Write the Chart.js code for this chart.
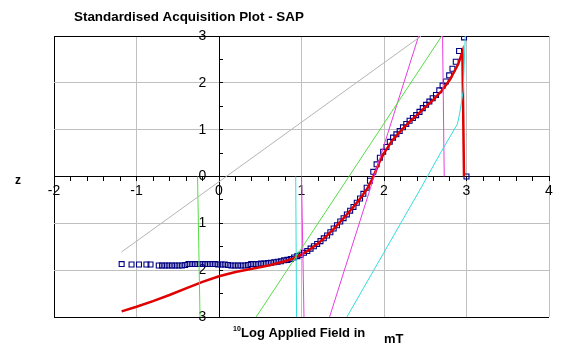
<!DOCTYPE html>
<html>
<head>
<meta charset="utf-8">
<script src="https://cdn.jsdelivr.net/npm/chart.js@4.4.1/dist/chart.umd.min.js"></script>
<style>
html,body{margin:0;padding:0;background:#fff;}
#wrap{width:576px;height:358px;}
</style>
</head>
<body>
<div id="wrap"><canvas id="c" width="576" height="358"></canvas></div>
<script>
// ---- data ----
const titleText = "Standardised Acquisition Plot - SAP";
const yTitle = "z";
const xTitleSup = "10";
const xTitleMain = "Log Applied Field in";
const xTitleUnit = "mT";

// measured SAP points (open squares)
const sapX = [
  -1.18,-1.06,-0.97,-0.88,-0.83,-0.73,-0.69,-0.65,-0.61,-0.57,
  -0.53,-0.49,-0.45,-0.41,-0.37,-0.33,-0.29,-0.25,-0.21,-0.17,
  -0.13,-0.09,-0.05,-0.01,0.03,0.07,0.11,0.15,0.19,0.23,
  0.27,0.31,0.35,0.39,0.43,0.47,0.51,0.55,0.59,0.63,
  0.67,0.71,0.75,0.79,0.83,0.87,0.91,0.95,0.99,1.03,
  1.07,1.11,1.15,1.19,1.23,1.27,1.31,1.35,1.39,1.43,
  1.47,1.51,1.55,1.59,1.63,1.67,1.71,1.75,1.79,1.83,
  1.87,1.91,1.95,1.99,2.03,2.07,2.11,2.15,2.19,2.23,
  2.27,2.31,2.35,2.39,2.43,2.47,2.51,2.55,2.59,2.63,
  2.67,2.71,2.75,2.79,2.83,2.87,2.91,2.97,3.00
];
const sapZ = [
  -1.87,-1.88,-1.88,-1.88,-1.88,-1.90,-1.90,-1.90,-1.90,-1.90,
  -1.90,-1.90,-1.90,-1.89,-1.87,-1.87,-1.87,-1.87,-1.87,-1.87,
  -1.87,-1.87,-1.87,-1.88,-1.88,-1.88,-1.89,-1.90,-1.90,-1.90,
  -1.90,-1.90,-1.89,-1.87,-1.87,-1.87,-1.86,-1.86,-1.85,-1.84,
  -1.83,-1.82,-1.81,-1.79,-1.78,-1.76,-1.73,-1.70,-1.67,-1.63,
  -1.59,-1.54,-1.49,-1.44,-1.38,-1.32,-1.26,-1.19,-1.11,-1.04,
  -0.96,-0.89,-0.81,-0.73,-0.65,-0.56,-0.47,-0.37,-0.24,-0.09,
  0.10,0.26,0.40,0.53,0.63,0.74,0.83,0.90,0.97,1.05,
  1.12,1.19,1.25,1.31,1.38,1.46,1.53,1.60,1.67,1.74,
  1.84,1.94,2.03,2.16,2.30,2.45,2.68,2.97,0
];

// fitted model (red)
const fitX = [-1.18,-1.0,-0.8,-0.6,-0.4,-0.2,0,0.2,0.4,0.6,0.8,0.9,1.0,1.1,1.2,1.3,1.4,1.5,1.6,1.7,1.8,1.85,1.9,1.95,2.0,2.1,2.2,2.3,2.4,2.5,2.6,2.7,2.8,2.9,2.95,2.97];
const fitZ = [-2.88,-2.78,-2.66,-2.53,-2.39,-2.25,-2.13,-2.04,-1.97,-1.90,-1.81,-1.75,-1.67,-1.56,-1.43,-1.28,-1.10,-0.91,-0.71,-0.50,-0.25,-0.08,0.12,0.33,0.50,0.77,0.97,1.15,1.31,1.48,1.64,1.83,2.07,2.40,2.66,0];

// component / reference lines
const grayX = [-1.18, 2.45];      const grayZ = [-1.61, 3.0];
const green1X = [-0.26, -0.23];   const green1Z = [0, -3];
const green2X = [0.45, 2.70];     const green2Z = [-3, 3];
const cyan1X = [0.93, 0.94];      const cyan1Z = [0, -3];
const cyan2X = [1.55, 2.0, 2.44, 2.7, 2.89, 2.92, 2.96, 2.985];
const cyan2Z = [-3, -1.62, -0.27, 0.55, 1.12, 1.37, 1.83, 3.0];
const mag1X = [1.00, 1.03];       const mag1Z = [0, -3];
const mag2X = [1.34, 2.42];       const mag2Z = [-3, 3];
const mag3X = [2.71, 2.73];       const mag3Z = [3, 0];

const xMin = -2, xMax = 4, xStep = 0.2;
const yMin = -3, yMax = 3, yStep = 0.5;

// ---- build chart ----
const pts = (xs, zs) => xs.map((x, i) => ({x: x, y: zs[i]}));
const isInt = v => Math.abs(v - Math.round(v)) < 1e-6;
const FONT = "'Liberation Sans', Arial, sans-serif";
const GRID = '#c0c0c0';

function lineDs(xs, zs, color, w) {
  return {data: pts(xs, zs), showLine: true, borderColor: color, borderWidth: w,
          pointRadius: 0, fill: false, tension: 0};
}

const textPlugin = {
  id: 'sapText',
  afterDraw(chart) {
    const ctx = chart.ctx;
    ctx.save();
    ctx.fillStyle = '#000';
    ctx.textBaseline = 'alphabetic';
    ctx.textAlign = 'left';
    ctx.font = "bold 13.4px " + FONT;
    ctx.fillText(titleText, 74, 20.5);
    ctx.font = "bold 12px " + FONT;
    ctx.fillText(yTitle, 15, 184);
    ctx.font = "bold 7px " + FONT;
    ctx.fillText(xTitleSup, 233, 331);
    ctx.font = "bold 13px " + FONT;
    ctx.fillText(xTitleMain, 241, 337);
    ctx.fillText(xTitleUnit, 384, 343);
    ctx.restore();
  }
};

new Chart(document.getElementById('c'), {
  type: 'scatter',
  data: {
    datasets: [
      lineDs(grayX, grayZ, '#b4b4b4', 1),
      lineDs(green1X, green1Z, '#55dd44', 1),
      lineDs(green2X, green2Z, '#55dd44', 1),
      lineDs(cyan1X, cyan1Z, '#33dddd', 1),
      lineDs(cyan2X, cyan2Z, '#33dddd', 1),
      lineDs(mag1X, mag1Z, '#e83ce0', 1),
      lineDs(mag2X, mag2Z, '#e83ce0', 1),
      lineDs(mag3X, mag3Z, '#e83ce0', 1),
      lineDs(fitX, fitZ, '#e00000', 2.5),
      {data: pts(sapX, sapZ), showLine: false, pointStyle: 'rect', pointRadius: 3.5,
       pointBorderColor: '#000080', pointBackgroundColor: 'rgba(255,255,255,0)',
       pointBorderWidth: 1.1}
    ]
  },
  options: {
    responsive: false,
    animation: false,
    devicePixelRatio: 1,
    layout: {padding: {left: 54, right: 27, top: 36, bottom: 41}},
    plugins: {legend: {display: false}, tooltip: {enabled: false}, title: {display: false}},
    scales: {
      x: {
        type: 'linear', min: xMin, max: xMax, position: {y: 0},
        afterFit(s) { s.height = 0; },
        ticks: {stepSize: xStep, autoSkip: false, maxRotation: 0, padding: 2,
                color: '#000', font: {family: FONT, size: 14},
                callback: v => isInt(v) ? String(Math.round(v)) : ''},
        grid: {
          color: c => { const v = c.tick ? c.tick.value : 0;
            if (!isInt(v)) return 'rgba(0,0,0,0)';
            const r = Math.round(v);
            return (r === xMin || r === 0) ? '#000' : GRID; },
          tickColor: '#000', tickLength: 4, lineWidth: 1
        },
        border: {display: true, color: '#000', width: 1}
      },
      y: {
        type: 'linear', min: yMin, max: yMax, position: {x: 0},
        afterFit(s) { s.width = 0; },
        ticks: {stepSize: yStep, display: false},
        grid: {
          color: c => { const v = c.tick ? c.tick.value : 0;
            if (!isInt(v)) return 'rgba(0,0,0,0)';
            const r = Math.round(v);
            return (r === yMin || r === yMax || r === 0) ? '#000' : GRID; },
          tickColor: '#000', tickLength: -4, lineWidth: 1
        },
        border: {display: true, color: '#000', width: 1}
      },
      yl: {
        type: 'linear', axis: 'y', min: yMin, max: yMax, position: {x: -0.155},
        afterFit(s) { s.width = 0; },
        ticks: {stepSize: 1, color: '#000', font: {family: FONT, size: 14},
                callback: v => isInt(v) ? String(Math.abs(Math.round(v))) : ''},
        grid: {display: false},
        border: {display: false}
      }
    }
  },
  plugins: [textPlugin]
});
</script>
</body>
</html>
